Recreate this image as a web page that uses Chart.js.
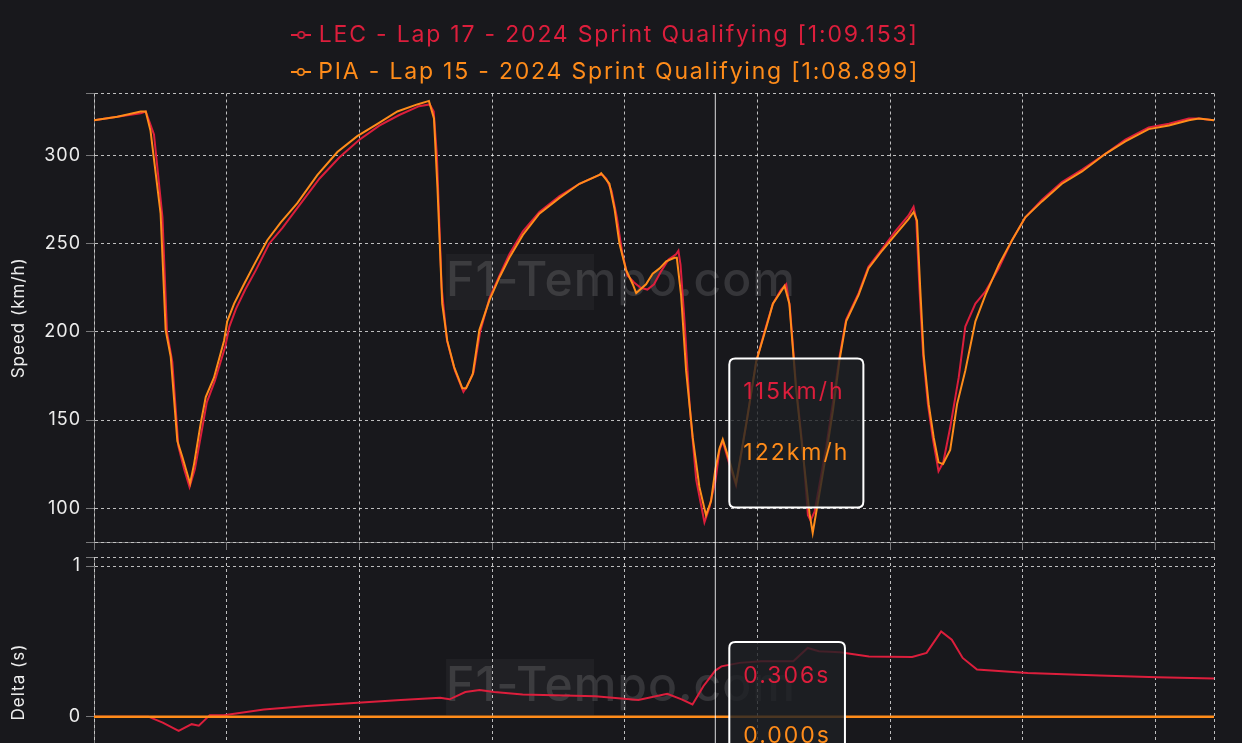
<!DOCTYPE html>
<html>
<head>
<meta charset="utf-8">
<title>Speed trace LEC vs PIA</title>
<script src="https://cdn.jsdelivr.net/npm/chart.js@4.4.1/dist/chart.umd.min.js"></script>
<style>
    html, body { margin: 0; padding: 0; background: #18181c; overflow: hidden; }
    canvas { display: block; }
</style>
</head>
<body>
<canvas id="speedChart" width="1242" height="550"></canvas>
<canvas id="deltaChart" width="1242" height="257"></canvas>
<script>
// data //
var lecDist = [0, 88, 176, 195, 226, 258, 275, 295, 318, 340, 360, 380, 405, 425, 455, 495, 510, 535, 570, 610,
    660, 710, 770, 850, 925, 1000, 1075, 1150, 1225, 1265, 1280, 1292, 1310, 1330, 1360, 1392, 1405, 1430, 1455, 1490,
    1528, 1565, 1616, 1678, 1754, 1829, 1904, 1916, 1930, 1950, 1970, 1990, 2010, 2035, 2060, 2085, 2110, 2135, 2165, 2193,
    2202, 2210, 2225, 2244, 2269, 2300, 2318, 2330, 2341, 2357, 2369, 2394, 2419, 2460, 2495, 2532, 2558, 2589, 2608, 2622,
    2645, 2671, 2690, 2700, 2715, 2733, 2759, 2784, 2809, 2834, 2881, 2918, 2969, 3019, 3069, 3088, 3098, 3110, 3124, 3142,
    3160, 3182, 3200, 3225, 3258, 3283, 3321, 3359, 3409, 3459, 3509, 3572, 3647, 3723, 3811, 3886, 3974, 4050, 4125, 4163, 4220];
var lecSpeed = [320, 322, 324, 325, 312, 265, 200, 183, 135, 122, 112, 122, 143, 160, 172, 192, 203, 213, 224, 235,
    250, 259, 271, 287, 299, 309, 317, 323, 328, 329, 325, 300, 225, 195, 178, 166, 169, 177, 200, 219,
    232, 244, 257, 268, 277, 284, 289, 289, 287, 280, 265, 245, 232, 228, 225, 224, 227, 234, 241, 244,
    246, 238, 206, 159, 116, 92, 100, 108, 115, 133, 138, 125, 113, 150, 183, 203, 216, 224, 227, 214,
    170, 133, 96, 93, 98, 113, 135, 160, 186, 207, 222, 237, 247, 257, 266, 271, 264, 225, 187, 159,
    140, 121, 126, 145, 174, 203, 216, 223, 236, 252, 265, 275, 285, 292, 301, 309, 316, 318, 321, 321, 320];

var piaDist = [0, 88, 176, 195, 213, 251, 270, 289, 314, 333, 362, 377, 402, 421, 452, 490, 502, 528, 565, 603,
    653, 703, 766, 842, 917, 992, 1068, 1143, 1218, 1262, 1281, 1294, 1312, 1331, 1357, 1388, 1402, 1427, 1452, 1490,
    1528, 1565, 1616, 1678, 1754, 1829, 1904, 1911, 1942, 1961, 1980, 2005, 2030, 2043, 2080, 2105, 2131, 2156, 2187, 2196,
    2212, 2231, 2256, 2281, 2306, 2325, 2341, 2357, 2369, 2394, 2419, 2460, 2495, 2532, 2558, 2589, 2602, 2620, 2645, 2671,
    2696, 2708, 2733, 2759, 2784, 2809, 2834, 2881, 2918, 2969, 3019, 3069, 3088, 3101, 3113, 3126, 3145, 3164, 3182, 3199,
    3226, 3252, 3283, 3321, 3359, 3409, 3459, 3509, 3572, 3647, 3723, 3811, 3886, 3974, 4050, 4125, 4163, 4220];
var piaSpeed = [320, 322, 325, 325, 314, 267, 201, 186, 138, 129, 114, 125, 148, 163, 174, 195, 206, 216, 227, 238,
    252, 262, 273, 289, 302, 311, 318, 325, 329, 331, 321, 282, 216, 195, 180, 168, 168, 176, 201, 218,
    231, 242, 255, 267, 276, 284, 289, 290, 284, 270, 250, 235, 227, 222, 227, 233, 236, 240, 242, 242,
    221, 178, 140, 112, 96, 104, 122, 134, 139, 127, 114, 150, 183, 202, 216, 223, 226, 216, 168, 131,
    97, 86, 108, 131, 155, 184, 206, 221, 236, 246, 255, 264, 268, 263, 225, 187, 159, 140, 126, 125,
    133, 159, 178, 206, 221, 238, 252, 265, 274, 284, 291, 301, 308, 315, 317, 320, 321, 320];

var deltaDist = [0, 205, 259, 319, 368, 395, 436, 489, 640, 802, 993, 1156, 1304, 1340, 1399, 1453, 1508, 1615, 1889, 2051,
    2160, 2214, 2255, 2296, 2341, 2364, 2432, 2513, 2635, 2689, 2731, 2811, 2920, 3083, 3137, 3192, 3232, 3273, 3327, 3518,
    3789, 4006, 4220];
var lecDelta = [0, 0, -0.04, -0.095, -0.05, -0.06, 0.01, 0.01, 0.048, 0.07, 0.093, 0.11, 0.125, 0.115, 0.163, 0.176, 0.163, 0.147, 0.136, 0.11,
    0.152, 0.115, 0.081, 0.202, 0.306, 0.334, 0.357, 0.368, 0.368, 0.456, 0.434, 0.427, 0.4, 0.396, 0.423, 0.566, 0.511, 0.39, 0.313, 0.29,
    0.273, 0.262, 0.253];
var piaDeltaDist = [0, 4220];
var piaDelta = [0, 0];

var distTicks = [0, 500, 1000, 1500, 2000, 2500, 3000, 3500, 4000];
var speedTicks = [100, 150, 200, 250, 300];
var deltaTicks = [0, 1];

var xMax = 4220;
var speedMin = 80.8, speedMax = 335.2;
var deltaMin = -0.6, deltaMax = 1.06;
var hoverDist = 2341; // 滑鼠位置

var lecLabel = 'LEC - Lap 17 - 2024 Sprint Qualifying [1:09.153]';
var piaLabel = 'PIA - Lap 15 - 2024 Sprint Qualifying [1:08.899]';
// data //

var lecColor = '#dc1e3c';
var piaColor = '#ff8c1a';
var textColor = '#ececec';
var gridColor = 'rgba(255, 255, 255, 0.72)';
var axisColor = 'rgba(200, 200, 200, 0.55)';
var fontName = 'Inter';

function toPoints(xs, ys) {
    return xs.map(function (x, i) { return { x: x, y: ys[i] }; });
}

// legend marker -o- //
function makeMarker(color) {
    var c = document.createElement('canvas');
    c.width = 20;
    c.height = 10;
    var g = c.getContext('2d');
    g.strokeStyle = color;
    g.lineWidth = 2;
    g.beginPath();
    g.moveTo(0, 5);
    g.lineTo(20, 5);
    g.stroke();
    g.fillStyle = '#18181c';
    g.lineWidth = 1.5;
    g.beginPath();
    g.arc(10, 5, 3.2, 0, Math.PI * 2);
    g.fill();
    g.stroke();
    return c;
}

// letter spacing: 1px for axes, wider for legend and tooltip //
var spacing = {
    id: 'spacing',
    afterInit: function (chart) {
        var legend = chart.legend;
        if (!legend) {
            return;
        }
        var fit = legend.fit, draw = legend.draw;
        legend.fit = function () {
            chart.ctx.letterSpacing = '1.8px';
            fit.apply(legend, arguments);
            chart.ctx.letterSpacing = '1px';
        };
        legend.draw = function () {
            chart.ctx.letterSpacing = '1.8px';
            draw.apply(legend, arguments);
            chart.ctx.letterSpacing = '1px';
        };
    },
    beforeLayout: function (chart) { chart.ctx.letterSpacing = '1px'; },
    beforeDraw: function (chart) { chart.ctx.letterSpacing = '1px'; },
    beforeTooltipDraw: function (chart) { chart.ctx.letterSpacing = '2px'; },
    afterTooltipDraw: function (chart) { chart.ctx.letterSpacing = '1px'; }
};

// watermark //
var watermark = {
    id: 'watermark',
    beforeDatasetsDraw: function (chart, args, opts) {
        var ctx = chart.ctx;
        ctx.save();
        ctx.font = '500 48px ' + fontName;
        var text = 'F1-Tempo.com';
        var w = ctx.measureText(text).width;
        var x = chart.width / 2 - w / 2;
        ctx.fillStyle = 'rgba(255, 255, 255, 0.035)';
        ctx.fillRect(x, opts.y - 28, 148, 56);
        ctx.fillStyle = 'rgba(255, 255, 255, 0.13)';
        ctx.textBaseline = 'middle';
        ctx.fillText(text, x, opts.y);
        ctx.restore();
    }
};

// vertical hover line //
var crosshair = {
    id: 'crosshair',
    afterDatasetsDraw: function (chart, args, opts) {
        var x = chart.scales.x.getPixelForValue(hoverDist);
        var ctx = chart.ctx;
        ctx.save();
        ctx.strokeStyle = 'rgba(255, 255, 255, 0.85)';
        ctx.lineWidth = 1;
        ctx.beginPath();
        ctx.moveTo(x, opts.fromArea ? chart.chartArea.top : 0);
        ctx.lineTo(x, chart.height);
        ctx.stroke();
        ctx.restore();
    }
};

Chart.Tooltip.positioners.hoverPos = function (items, eventPosition) {
    if (!items.length || !eventPosition) {
        return false;
    }
    return { x: eventPosition.x, y: eventPosition.y };
};

function tooltipOptions(fmt) {
    return {
        enabled: true,
        position: 'hoverPos',
        xAlign: 'left',
        yAlign: 'center',
        caretSize: 0,
        caretPadding: 14,
        displayColors: false,
        backgroundColor: 'rgba(30, 32, 36, 0.8)',
        borderColor: '#ffffff',
        borderWidth: 2,
        cornerRadius: 6,
        padding: { top: 20, bottom: 41, left: 14, right: 14 },
        bodyFont: { family: fontName, size: 23 },
        bodySpacing: 33,
        callbacks: {
            title: function () { return []; },
            label: fmt,
            labelTextColor: function (ctx) { return ctx.dataset.borderColor; }
        }
    };
}

function xScale(withTicks) {
    return {
        type: 'linear',
        min: 0,
        max: xMax,
        afterBuildTicks: function (scale) {
            scale.ticks = distTicks.concat([xMax]).map(function (v) { return { value: v }; });
        },
        afterFit: function (scale) {
            scale.paddingLeft = 0;
            scale.paddingRight = 0;
        },
        ticks: { display: false },
        grid: {
            color: gridColor,
            drawTicks: withTicks,
            tickLength: 8,
            tickColor: axisColor
        },
        border: { display: withTicks, color: axisColor, dash: [3, 3] }
    };
}

function yScale(min, max, labels, title) {
    return {
        min: min,
        max: max,
        afterBuildTicks: function (scale) {
            scale.ticks = [min].concat(labels, [max]).map(function (v) { return { value: v }; });
        },
        afterFit: function (scale) {
            scale.width = 94;
            scale.paddingTop = 0;
            scale.paddingBottom = 0;
        },
        ticks: {
            color: textColor,
            font: { family: fontName, size: 18 },
            padding: 5,
            callback: function (value) {
                return labels.indexOf(value) >= 0 ? String(value) : '';
            }
        },
        grid: { color: gridColor, tickLength: 8, tickColor: axisColor },
        border: { color: axisColor, dash: [3, 3] },
        title: {
            display: true,
            text: title,
            color: textColor,
            font: { family: fontName, size: 17 },
            padding: { top: 9, bottom: 0 }
        }
    };
}

// 速度圖 //
var speedChart = new Chart(document.getElementById('speedChart').getContext('2d'), {
    type: 'line',
    data: {
        datasets: [{
            label: lecLabel,
            data: toPoints(lecDist, lecSpeed),
            borderColor: lecColor,
            borderWidth: 2,
            pointRadius: 0,
            pointHoverRadius: 0,
            order: 1
        }, {
            label: piaLabel,
            data: toPoints(piaDist, piaSpeed),
            borderColor: piaColor,
            borderWidth: 2,
            pointRadius: 0,
            pointHoverRadius: 0,
            order: 0
        }]
    },
    options: {
        responsive: false,
        animation: false,
        events: [],
        layout: { autoPadding: false, padding: { top: 9.5, right: 28, bottom: 0, left: 0 } },
        scales: {
            x: xScale(true),
            y: yScale(speedMin, speedMax, speedTicks, 'Speed (km/h)')
        },
        plugins: {
            legend: {
                position: 'top',
                labels: {
                    usePointStyle: true,
                    pointStyleWidth: 12,
                    padding: 14,
                    font: { family: fontName, size: 23 },
                    generateLabels: function (chart) {
                        return chart.data.datasets.map(function (ds, i) {
                            return {
                                text: ds.label,
                                fontColor: ds.borderColor,
                                fillStyle: ds.borderColor,
                                strokeStyle: ds.borderColor,
                                lineWidth: 0,
                                pointStyle: makeMarker(ds.borderColor),
                                hidden: false,
                                datasetIndex: i
                            };
                        });
                    }
                }
            },
            tooltip: tooltipOptions(function (ctx) { return Math.round(ctx.parsed.y) + 'km/h'; }),
            watermark: { y: 282 },
            crosshair: { fromArea: true }
        }
    },
    plugins: [spacing, watermark, crosshair]
});

// 差距圖 //
var deltaChart = new Chart(document.getElementById('deltaChart').getContext('2d'), {
    type: 'line',
    data: {
        datasets: [{
            label: 'LEC',
            data: toPoints(deltaDist, lecDelta),
            borderColor: lecColor,
            borderWidth: 2,
            pointRadius: 0,
            pointHoverRadius: 0,
            order: 1
        }, {
            label: 'PIA',
            data: toPoints(piaDeltaDist, piaDelta),
            borderColor: piaColor,
            borderWidth: 2.5,
            pointRadius: 0,
            pointHoverRadius: 0,
            order: 0
        }]
    },
    options: {
        responsive: false,
        animation: false,
        events: [],
        layout: { autoPadding: false, padding: { top: 7, right: 28, bottom: 0, left: 0 } },
        scales: {
            x: xScale(false),
            y: yScale(deltaMin, deltaMax, deltaTicks, 'Delta (s)')
        },
        plugins: {
            legend: { display: false },
            tooltip: tooltipOptions(function (ctx) { return ctx.parsed.y.toFixed(3) + 's'; }),
            watermark: { y: 137 },
            crosshair: { fromArea: false }
        }
    },
    plugins: [spacing, watermark, crosshair]
});

// 顯示 tooltip //
function showHover(chart, y) {
    var x = chart.scales.x.getPixelForValue(hoverDist);
    var active = chart.data.datasets.map(function (ds, i) {
        var best = 0;
        ds.data.forEach(function (p, j) {
            if (Math.abs(p.x - hoverDist) < Math.abs(ds.data[best].x - hoverDist)) {
                best = j;
            }
        });
        return { datasetIndex: i, index: best };
    });
    chart.ctx.letterSpacing = '2px';
    chart.tooltip.setActiveElements(active, { x: x, y: y });
    chart.ctx.letterSpacing = '1px';
    chart.draw();
}

showHover(speedChart, 433);
showHover(deltaChart, deltaChart.scales.y.getPixelForValue(0));
</script>
</body>
</html>
